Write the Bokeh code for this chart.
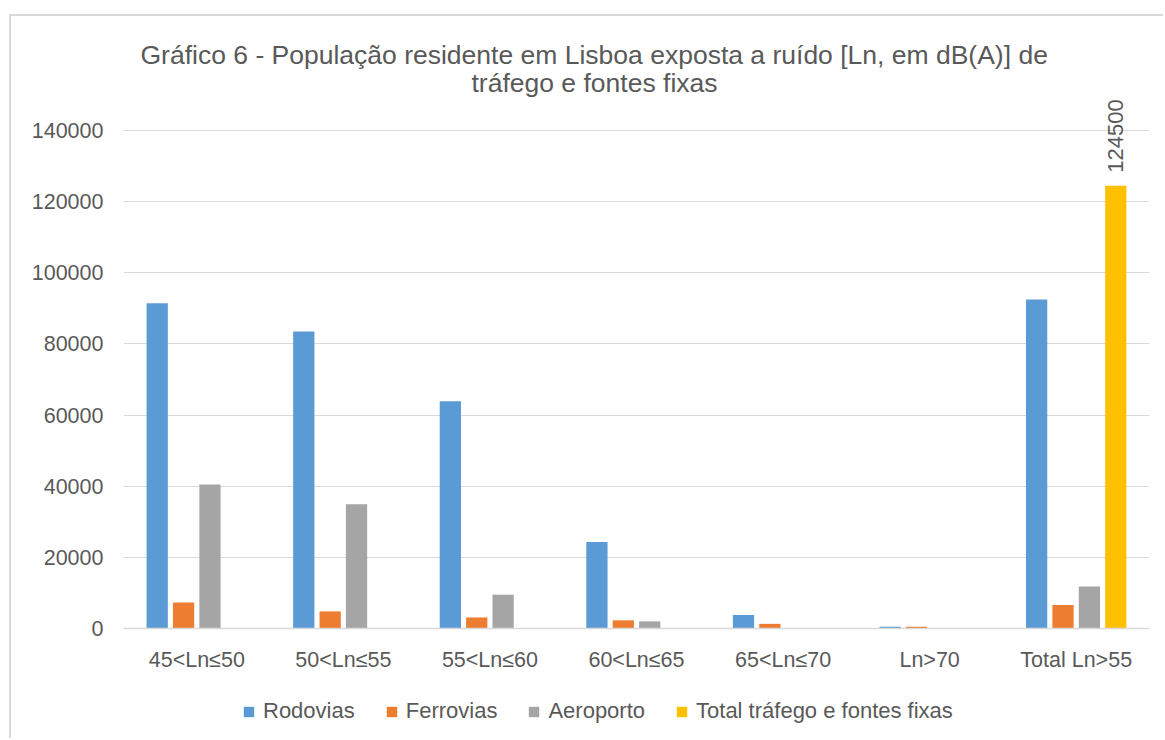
import math
from bokeh.plotting import figure
from bokeh.models import (ColumnDataSource, Range1d, FixedTicker, NumeralTickFormatter,
                          Title, Legend, LegendItem)
from bokeh.transform import dodge
from bokeh.core.properties import value
from bokeh.embed import file_html
from bokeh.resources import INLINE

categories = ["45<Ln≤50", "50<Ln≤55", "55<Ln≤60", "60<Ln≤65", "65<Ln≤70", "Ln>70", "Total Ln>55"]
rodovias = [91400, 83500, 63900, 24300, 3800, 500, 92500]
ferrovias = [7300, 4800, 3100, 2300, 1300, 500, 6600]
aeroporto = [40500, 34900, 9500, 2000, 0, 0, 11800]
total_trafego = [float("nan")] * 6 + [124500]
y_ticks = [0, 20000, 40000, 60000, 80000, 100000, 120000, 140000]

series_names = ["Rodovias", "Ferrovias", "Aeroporto", "Total tráfego e fontes fixas"]
colors = ["#5b9bd5", "#ed7d31", "#a5a5a5", "#ffc000"]
offsets = [-0.27, -0.09, 0.09, 0.27]

src = ColumnDataSource(dict(cat=categories, rod=rodovias, fer=ferrovias, aer=aeroporto))
src_tot = ColumnDataSource(dict(cat=categories[-1:], tot=total_trafego[-1:],
                                lbl=[str(int(total_trafego[-1]))]))

FONT = "Liberation Sans"
TXT = "#595959"
GRID = "#d9d9d9"

# y range extends below 0 so that the x axis (fixed at 0) and the legend sit inside the frame
p = figure(x_range=categories, y_range=Range1d(-31490, 149840), width=1154, height=724,
           output_backend="svg", toolbar_location=None,
           min_border_left=112, min_border_right=16, min_border_top=79, min_border_bottom=0)
p.title.visible = False
p.outline_line_color = None
p.x_range.range_padding = 0
p.margin = (14, 0, 0, 9)
p.styles = {"border-left": "2px solid #d9d9d9", "border-top": "2px solid #d9d9d9"}

renderers = []
for col, c, off in zip(["rod", "fer", "aer", "tot"], colors, offsets):
    s = src if col != "tot" else src_tot
    r = p.vbar(x=dodge("cat", off, range=p.x_range), top=col, width=0.145, source=s,
               fill_color=c, line_color=None)
    renderers.append(r)

p.text(x=dodge("cat", offsets[3], range=p.x_range), y="tot", text="lbl", source=src_tot,
       angle=math.pi / 2, text_align="left", text_baseline="middle", y_offset=-13,
       text_font=value(FONT), text_font_size="22px", text_color=TXT)

p.yaxis.ticker = FixedTicker(ticks=y_ticks)
p.yaxis.formatter = NumeralTickFormatter(format="0")
p.yaxis.axis_line_color = None
p.yaxis.major_tick_line_color = None
p.yaxis.minor_tick_line_color = None
p.yaxis.major_tick_out = 0
p.yaxis.major_label_standoff = 20
p.yaxis.major_label_text_font = FONT
p.yaxis.major_label_text_font_size = "21.5px"
p.yaxis.major_label_text_color = TXT

p.xaxis.fixed_location = 0
p.xaxis.axis_line_color = GRID
p.xaxis.axis_line_width = 1.5
p.xaxis.major_tick_line_color = None
p.xaxis.minor_tick_line_color = None
p.xaxis.major_tick_out = 0
p.xaxis.major_tick_in = 0
p.xaxis.major_label_standoff = 20
p.xaxis.major_label_text_font = FONT
p.xaxis.major_label_text_font_size = "21.5px"
p.xaxis.major_label_text_color = TXT

p.xgrid.grid_line_color = None
p.ygrid.grid_line_color = GRID
p.ygrid.grid_line_width = 1

# second line first (closest to the frame), then first line
p.add_layout(Title(text="tráfego e fontes fixas", align="left", offset=348, standoff=-5,
                   text_font=FONT, text_font_size="26.5px", text_color=TXT,
                   text_font_style="normal"), "above")
p.add_layout(Title(text="Gráfico 6 - População residente em Lisboa exposta a ruído [Ln, em dB(A)] de",
                   align="left", offset=17, standoff=-2,
                   text_font=FONT, text_font_size="26.5px", text_color=TXT,
                   text_font_style="normal"), "above")

legend = Legend(items=[LegendItem(label=n, renderers=[r]) for n, r in zip(series_names, renderers)],
                orientation="horizontal", location=(119, 16), glyph_width=13, glyph_height=13,
                label_standoff=8, spacing=30, padding=0, margin=0,
                label_text_font=FONT, label_text_font_size="22px", label_text_color=TXT,
                border_line_color=None, background_fill_alpha=0)
p.add_layout(legend, "center")

open("out.html", "w").write(file_html(p, INLINE))
